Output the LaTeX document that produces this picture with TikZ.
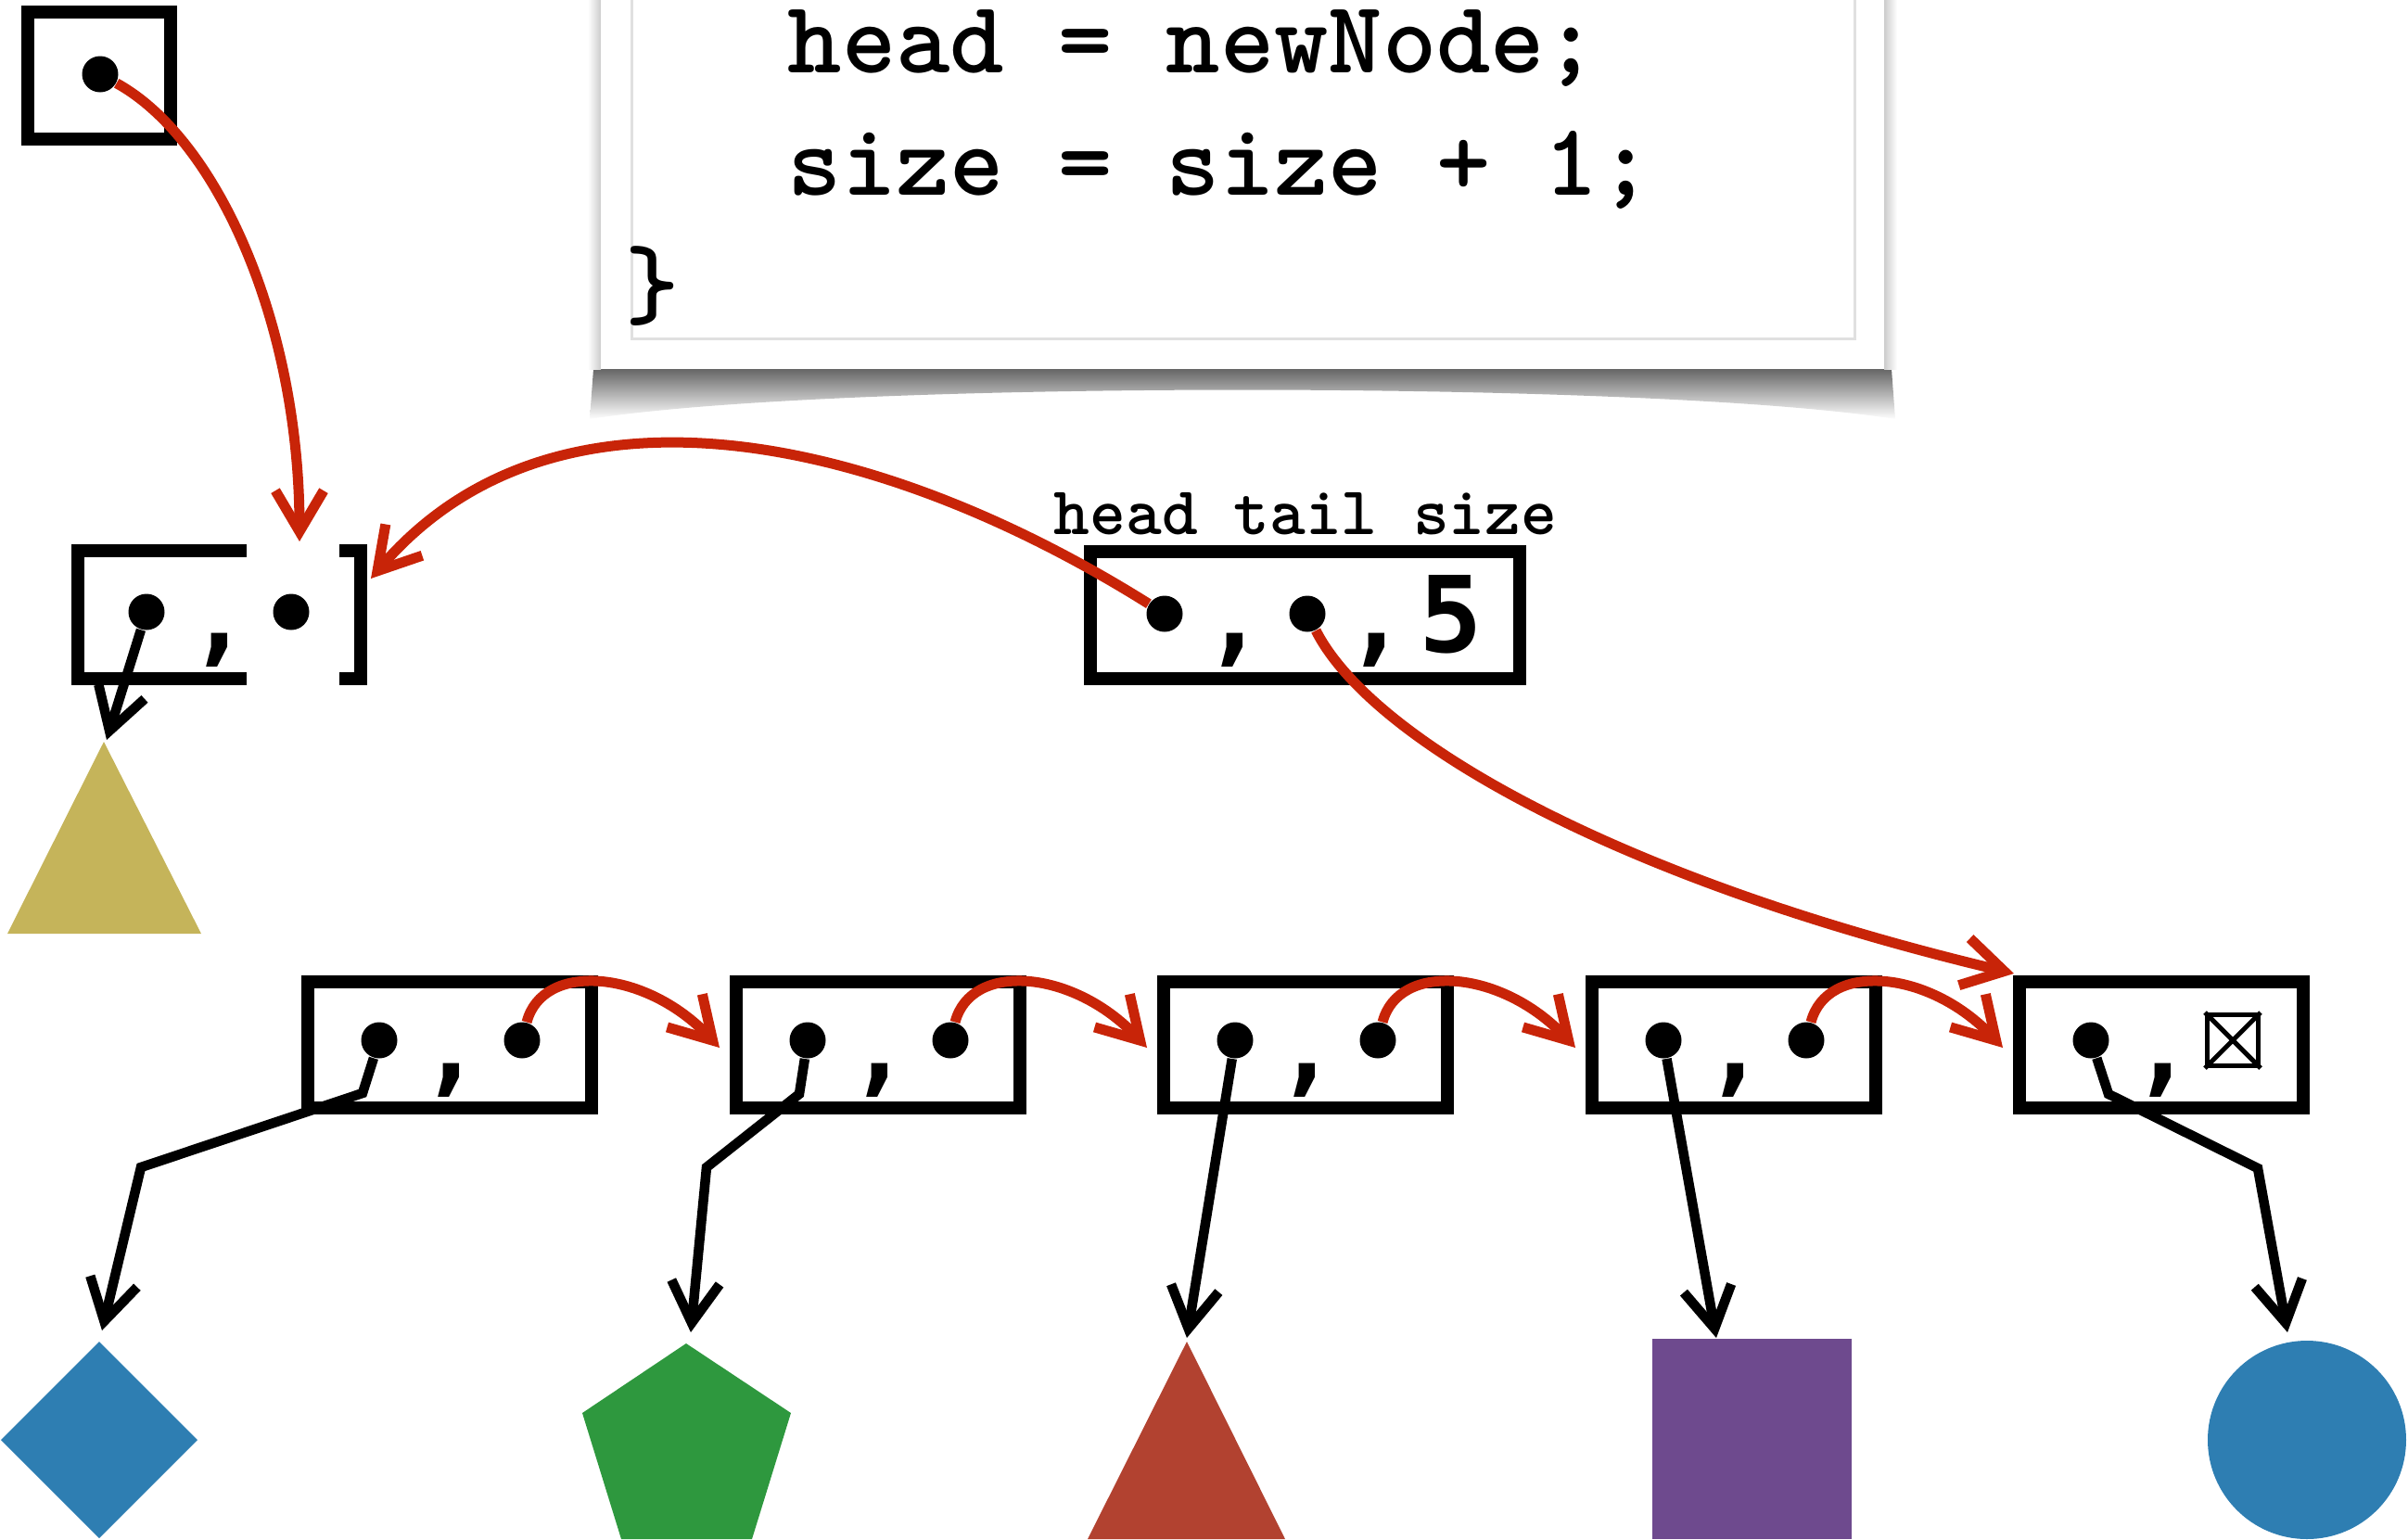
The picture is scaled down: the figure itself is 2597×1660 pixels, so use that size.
\documentclass[tikz,border=0pt]{standalone}
\usepackage{fontspec}
\newfontfamily\cellfont{DejaVu Sans Mono}
\usepackage{xcolor}
\usepackage{tikz}
\usetikzlibrary{arrows.meta,calc}

\definecolor{ptrred}{RGB}{200,36,8}
\definecolor{shYellow}{RGB}{197,180,90}
\definecolor{shBlue}{RGB}{46,126,178}
\definecolor{shGreen}{RGB}{46,152,62}
\definecolor{shRed}{RGB}{178,66,48}
\definecolor{shPurple}{RGB}{110,74,142}

\tikzset{
    cell/.style={draw, line width=1.4mm, fill=white, inner sep=0pt, minimum width=30.6mm, minimum height=13.6mm},
    ptr/.style={circle, fill=black, inner sep=0pt, minimum size=3.9mm},
    comma/.style={font=\cellfont\bfseries\fontsize{32.4}{36}\selectfont, inner sep=0pt, anchor=base},
    codeline/.style={font=\ttfamily\bfseries\fontsize{31.6}{38}\selectfont, inner sep=0pt, anchor=base west},
    nullbox/.style={draw, line width=0.5mm, inner sep=0pt, minimum size=5.5mm},
    redptr/.style={draw=ptrred, line width=1.1mm, -{Straight Barb[length=4.4mm,width=5.2mm]}},
    blkptr/.style={draw=black, line width=1.05mm, -{Straight Barb[length=4.4mm,width=5.2mm]}}}

\begin{document}
\begin{tikzpicture}[x=0.1mm, y=-0.1mm]
\useasboundingbox (0,0) rectangle (2597,1660);

% code panel
\shade[top color=black!60, bottom color=white] (640,398) -- (636,452) .. controls (900,410) and (1780,410) .. (2044,452) -- (2040,398) -- cycle;
\shade[left color=white, right color=black!20] (634,-20) rectangle (648,398);
\shade[left color=black!20, right color=white] (2032,-20) rectangle (2046,398);
\fill[white] (648,-20) rectangle (2032,398);
\draw[black!12, line width=0.3mm] (681,-20) -- (681,365) -- (2000,365) -- (2000,-20);
\node[codeline] (code1) at (849,78) {head = newNode;};
\node[codeline] (code2) at (849,210) {size = size + 1;};
\node[codeline] (code3) at (674,342) {\}};

% shapes
\fill[shYellow] (112,800) -- (217,1007) -- (8,1007) -- cycle;
\fill[shBlue] (107,1447) -- (213,1553) -- (107,1659) -- (1,1553) -- cycle;
\fill[shGreen] (740,1449) -- (853,1524) -- (811,1660) -- (670,1660) -- (628,1524) -- cycle;
\fill[shRed] (1280,1447) -- (1386,1660) -- (1173,1660) -- cycle;
\fill[shPurple] (1782,1444) rectangle (1997,1660);
\fill[shBlue] (2488,1553) circle (10.7mm);

% list pointer
\node[cell, minimum width=15.4mm, minimum height=13.7mm] (boxA) at (107,81) {};
\node[ptr] (a1) at (108,80) {};

% new node
\node[cell, minimum width=30.5mm, minimum height=13.8mm] (boxB) at (236,663) {};
\fill[white] (266,578) rectangle (366,752);
\node[ptr] (b1) at (158,660) {};
\node[comma] (bc) at (237,703) {,};
\node[ptr] (b2) at (314,660) {};

% header
\node[font=\ttfamily\bfseries\fontsize{21}{24}\selectfont, inner sep=0pt, anchor=base] (hlabel) at (1408,576) {head tail size};
\node[cell, minimum width=46.3mm, minimum height=13.7mm] (hdr) at (1407,663) {};
\node[ptr] (h1) at (1256,662) {};
\node[comma] (hc1) at (1332,703) {,};
\node[ptr] (h2) at (1410,662) {};
\node[comma] (hc2) at (1485,703) {,};
\node[comma] (hsize) at (1565,703) {5};

% chain
\node[cell] (n1) at (485,1127) {};
\node[ptr] (n1a) at (409,1122) {};
\node[comma] (n1c) at (487,1167) {,};
\node[ptr] (n1b) at (563,1122) {};

\node[cell] (n2) at (947,1127) {};
\node[ptr] (n2a) at (871,1122) {};
\node[comma] (n2c) at (949,1167) {,};
\node[ptr] (n2b) at (1025,1122) {};

\node[cell] (n3) at (1408,1127) {};
\node[ptr] (n3a) at (1332,1122) {};
\node[comma] (n3c) at (1410,1167) {,};
\node[ptr] (n3b) at (1486,1122) {};

\node[cell] (n4) at (1870,1127) {};
\node[ptr] (n4a) at (1794,1122) {};
\node[comma] (n4c) at (1872,1167) {,};
\node[ptr] (n4b) at (1948,1122) {};

\node[cell] (n5) at (2331,1127) {};
\node[ptr] (n5a) at (2255,1122) {};
\node[comma] (n5c) at (2333,1167) {,};
\node[nullbox] (nil) at (2408,1122) {};
\draw[line width=0.5mm] (nil.north west) -- (nil.south east) (nil.north east) -- (nil.south west);

% pointer ends
\coordinate (Bin) at (323,584);
\coordinate (Bside) at (400,624);
\coordinate (Tin) at (2172,1050);
\coordinate (Btip) at (115,798);
\coordinate (k1a) at (391,1179);
\coordinate (k1b) at (152,1259);
\coordinate (s1) at (110,1435);
\coordinate (k2a) at (862,1180);
\coordinate (k2b) at (762,1259);
\coordinate (s2) at (745,1437);
\coordinate (s3) at (1280,1443);
\coordinate (s4) at (1851,1443);
\coordinate (k5a) at (2274,1180);
\coordinate (k5b) at (2435,1260);
\coordinate (s5) at (2467,1437);
\coordinate (n2in) at ($(n2.west)+(-11,3)$);
\coordinate (n3in) at ($(n3.west)+(-11,3)$);
\coordinate (n4in) at ($(n4.west)+(-11,3)$);
\coordinate (n5in) at ($(n5.west)+(-11,3)$);

% black pointers
\draw[blkptr] (b1) -- (Btip);
\draw[blkptr] (n1a) -- (k1a) -- (k1b) -- (s1);
\draw[blkptr] (n2a) -- (k2a) -- (k2b) -- (s2);
\draw[blkptr] (n3a) -- (s3);
\draw[blkptr] (n4a) -- (s4);
\draw[blkptr] (n5a) -- (k5a) -- (k5b) -- (s5);

% red pointers
\draw[redptr] (a1) .. controls (235,150) and (323,350) .. (Bin);
\draw[redptr] (h1) .. controls (950,470) and (600,390) .. (Bside);
\draw[redptr] (h2) .. controls (1480,800) and (1750,950) .. (Tin);
\draw[redptr] (n1b) .. controls +(22,-85) and +(-80,-85) .. (n2in);
\draw[redptr] (n2b) .. controls +(22,-85) and +(-80,-85) .. (n3in);
\draw[redptr] (n3b) .. controls +(22,-85) and +(-80,-85) .. (n4in);
\draw[redptr] (n4b) .. controls +(22,-85) and +(-80,-85) .. (n5in);
\end{tikzpicture}
\end{document}
